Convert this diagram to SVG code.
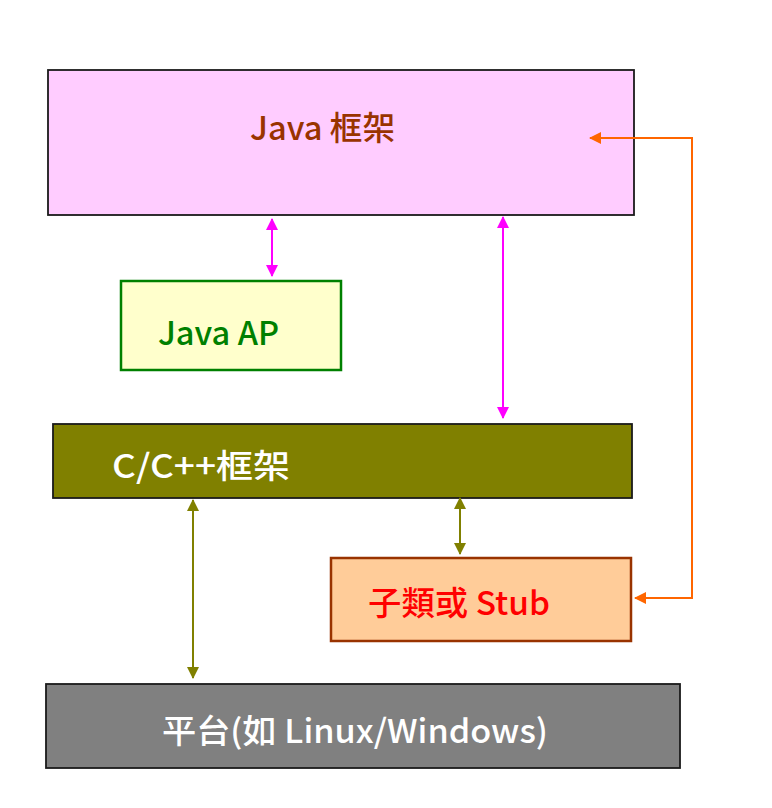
<svg xmlns="http://www.w3.org/2000/svg" width="772" height="808" viewBox="0 0 772 808">
<style>
text{font-family:"Noto Sans CJK TC","Noto Sans",sans-serif;font-size:33px;font-weight:500}
.l{fill:none;stroke-width:2}
.b{stroke:#1a1a1a;stroke-width:1.8}
</style>
<defs>
<marker id="mm" viewBox="0 0 12 12" refX="11" refY="6" markerWidth="12" markerHeight="12" markerUnits="userSpaceOnUse" orient="auto-start-reverse"><path d="M0,0 L12,6 L0,12 Z" fill="#FF00FF"/></marker>
<marker id="mo" viewBox="0 0 12 12" refX="11" refY="6" markerWidth="12" markerHeight="12" markerUnits="userSpaceOnUse" orient="auto-start-reverse"><path d="M0,0 L12,6 L0,12 Z" fill="#808000"/></marker>
<marker id="mr" viewBox="0 0 12 12" refX="11" refY="6" markerWidth="12" markerHeight="12" markerUnits="userSpaceOnUse" orient="auto-start-reverse"><path d="M0,0 L12,6 L0,12 Z" fill="#FF6600"/></marker>
</defs>
<rect width="772" height="808" fill="#fff"/>
<g id="java-framework">
<rect class="b" x="48" y="70" width="586" height="145" fill="#FFCCFF"/>
<text x="250" y="140" textLength="145" lengthAdjust="spacingAndGlyphs" fill="#993300">Java 框架</text>
</g>
<g id="java-ap">
<rect x="121" y="281" width="220" height="89" fill="#FFFFCC" stroke="#008000" stroke-width="2.5"/>
<text x="158" y="345" textLength="121" lengthAdjust="spacingAndGlyphs" fill="#008000">Java AP</text>
</g>
<g id="cpp-framework">
<rect class="b" x="53" y="424" width="579" height="74" fill="#808000"/>
<text x="112" y="478" textLength="178" lengthAdjust="spacingAndGlyphs" fill="#FFFFFF">C/C++框架</text>
</g>
<g id="stub">
<rect x="331" y="558" width="300" height="83" fill="#FFCC99" stroke="#993300" stroke-width="2.5"/>
<text x="368" y="615" textLength="182" lengthAdjust="spacingAndGlyphs" fill="#FF0000">子類或 Stub</text>
</g>
<g id="platform">
<rect class="b" x="46" y="684" width="634" height="84" fill="#808080"/>
<text x="162" y="743" textLength="386" lengthAdjust="spacingAndGlyphs" fill="#FFFFFF">平台(如 Linux/Windows)</text>
</g>
<g id="connectors">
<line class="l" x1="272" y1="219" x2="272" y2="276" stroke="#FF00FF" marker-start="url(#mm)" marker-end="url(#mm)"/>
<line class="l" x1="503" y1="217" x2="503" y2="418" stroke="#FF00FF" marker-start="url(#mm)" marker-end="url(#mm)"/>
<line class="l" x1="193" y1="500" x2="193" y2="678" stroke="#808000" marker-start="url(#mo)" marker-end="url(#mo)"/>
<line class="l" x1="460" y1="498" x2="460" y2="554" stroke="#808000" marker-start="url(#mo)" marker-end="url(#mo)"/>
<polyline class="l" points="590,138 692,138 692,598 635,598" stroke="#FF6600" marker-start="url(#mr)" marker-end="url(#mr)"/>
</g>
</svg>
